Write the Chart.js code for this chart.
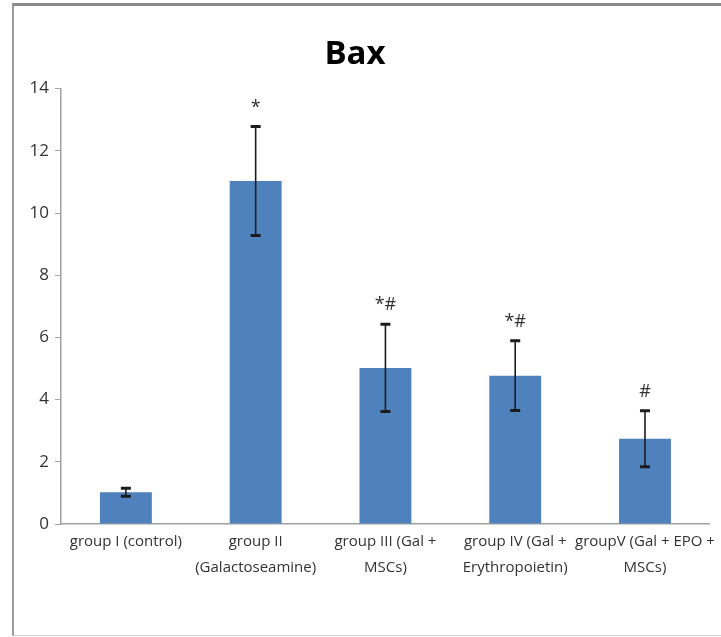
<!DOCTYPE html>
<html>
<head>
<meta charset="utf-8">
<script src="https://cdn.jsdelivr.net/npm/chart.js@4.4.1/dist/chart.umd.min.js"></script>
<style>
  html, body { margin: 0; padding: 0; background: #ffffff; }
  body { width: 721px; height: 637px; position: relative; overflow: hidden; }
  #frame {
    position: absolute; left: 12px; top: 3px; width: 712px; height: 633px;
    border-top: 3px solid #8a8a8a; border-left: 2px solid #9a9a9a;
    border-bottom: 1px solid #d0d0d0; border-right: 1px solid #e4e4e4;
    box-sizing: border-box;
  }
  #wrap { position: absolute; left: 0; top: 0; width: 721px; height: 637px; }
</style>
</head>
<body>
<div id="frame"></div>
<div id="wrap"><canvas id="c" width="721" height="637"></canvas></div>
<script>
// Bax expression per group (mean with error bars and significance marks)
const groups = [
  ['group I (control)'],
  ['group II', '(Galactoseamine)'],
  ['group III (Gal +', 'MSCs)'],
  ['group IV (Gal +', 'Erythropoietin)'],
  ['groupV (Gal + EPO +', 'MSCs)']
];
const baxMean = [1.02, 11.03, 5.02, 4.77, 2.74];
const baxError = [0.13, 1.75, 1.40, 1.12, 0.90];
const marks = ['', '*', '*#', '*#', '#'];
const yTicks = [0, 2, 4, 6, 8, 10, 12, 14];

const FONT = "'Open Sans', 'DejaVu Sans Condensed', sans-serif";

// Vertical error bars with end caps, drawn from the mean and error arrays
const errorBars = {
  id: 'errorBars',
  afterDatasetsDraw(chart) {
    const ctx = chart.ctx;
    const y = chart.scales.y;
    const meta = chart.getDatasetMeta(0);
    ctx.save();
    ctx.strokeStyle = '#1c1c1c';
    meta.data.forEach((bar, i) => {
      const hi = y.getPixelForValue(baxMean[i] + baxError[i]);
      const lo = y.getPixelForValue(baxMean[i] - baxError[i]);
      ctx.lineWidth = 1.6;
      ctx.beginPath();
      ctx.moveTo(bar.x, hi);
      ctx.lineTo(bar.x, lo);
      ctx.stroke();
      ctx.lineWidth = 3;
      ctx.beginPath();
      ctx.moveTo(bar.x - 5, hi); ctx.lineTo(bar.x + 5, hi);
      ctx.moveTo(bar.x - 5, lo); ctx.lineTo(bar.x + 5, lo);
      ctx.stroke();
    });
    ctx.restore();
  }
};

// Significance marks above each error bar
const sigMarks = {
  id: 'sigMarks',
  afterDatasetsDraw(chart) {
    const ctx = chart.ctx;
    const y = chart.scales.y;
    const meta = chart.getDatasetMeta(0);
    ctx.save();
    ctx.fillStyle = '#333333';
    ctx.font = '18px ' + FONT;
    ctx.textAlign = 'center';
    ctx.textBaseline = 'bottom';
    meta.data.forEach((bar, i) => {
      if (!marks[i]) return;
      const top = y.getPixelForValue(baxMean[i] + baxError[i]);
      ctx.fillText(marks[i], bar.x, top - 10);
    });
    ctx.restore();
  }
};

new Chart(document.getElementById('c'), {
  type: 'bar',
  data: {
    labels: groups,
    datasets: [{
      label: 'Bax',
      data: baxMean,
      backgroundColor: '#4F81BD',
      borderWidth: 0,
      categoryPercentage: 1.0,
      barPercentage: 0.4
    }]
  },
  options: {
    responsive: false,
    animation: false,
    devicePixelRatio: 1,
    layout: { padding: { left: 0, right: 11, top: 0, bottom: 0 } },
    plugins: {
      legend: { display: false },
      tooltip: { enabled: false },
      title: {
        display: true,
        text: 'Bax',
        color: '#000000',
        font: { family: FONT, size: 33, weight: 'bold', lineHeight: 1.2 },
        padding: { top: 35, bottom: 14 }
      }
    },
    scales: {
      x: {
        grid: { display: true, drawOnChartArea: false, drawTicks: false },
        border: { display: true, color: '#a0a0a0', width: 1.5 },
        ticks: {
          color: '#333333',
          font: { family: FONT, size: 15, lineHeight: 1.7 },
          padding: 5,
          maxRotation: 0,
          autoSkip: false
        },
        afterFit(s) { s.height = 637 - 524; }
      },
      y: {
        min: 0,
        max: 14,
        afterBuildTicks(s) { s.ticks = yTicks.map(v => ({ value: v })); },
        grid: { display: true, drawOnChartArea: false, drawTicks: true, tickLength: 6, color: '#a0a0a0' },
        border: { display: true, color: '#a0a0a0', width: 1.5 },
        ticks: {
          color: '#333333',
          font: { family: FONT, size: 17 },
          padding: 6
        },
        afterFit(s) { s.width = 61; }
      }
    }
  },
  plugins: [errorBars, sigMarks]
});
</script>
</body>
</html>
